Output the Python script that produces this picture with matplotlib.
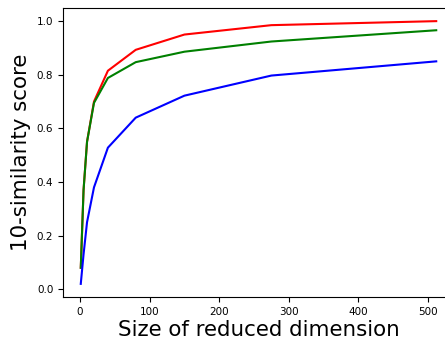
import matplotlib
matplotlib.use("Agg")
import matplotlib.pyplot as plt

# reduced dimension sizes
dims = [1, 5, 10, 20, 40, 80, 150, 275, 512]

# 10-similarity scores per method
score_red = [0.08, 0.37, 0.55, 0.70, 0.815, 0.893, 0.950, 0.985, 1.0]
score_green = [0.08, 0.37, 0.55, 0.695, 0.788, 0.847, 0.886, 0.924, 0.966]
score_blue = [0.02, 0.13, 0.25, 0.38, 0.528, 0.64, 0.722, 0.797, 0.85]

fig = plt.figure(figsize=(4.45, 3.41), dpi=100)
ax = fig.add_axes([63 / 445, 44 / 341, 391 / 445, 289 / 341])

ax.plot(dims, score_red, 'r')
ax.plot(dims, score_green, 'g')
ax.plot(dims, score_blue, 'b')

ax.set_xlabel("Size of reduced dimension", fontsize=15.4, labelpad=2)
ax.set_ylabel("10-similarity score", fontsize=15.4, labelpad=4)
ax.set_xticks([0, 100, 200, 300, 400, 500])
ax.set_yticks([0.0, 0.2, 0.4, 0.6, 0.8, 1.0])
ax.tick_params(labelsize=7.5)

fig.savefig("out.png", dpi=100)
